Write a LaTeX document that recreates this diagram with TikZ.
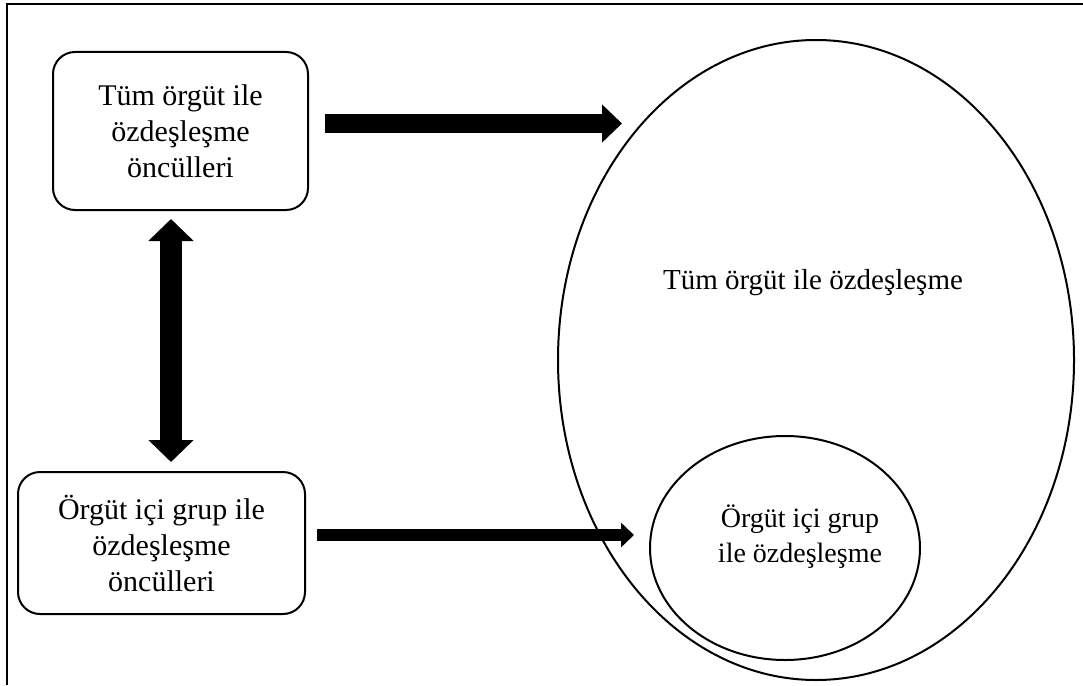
\documentclass[tikz,border=0pt]{standalone}
\usepackage{fontspec}
\setmainfont{Liberation Serif}
\usetikzlibrary{arrows.meta,shapes.geometric}

\begin{document}
\begin{tikzpicture}[x=1pt,y=-1pt]
\tikzstyle{every node}+=[inner sep=0pt, font=\fontsize{29}{36}\selectfont]
\tikzstyle{oncul}=[draw, line width=2pt, rounded corners=22pt, align=center, font=\fontsize{30}{36}\selectfont]
\tikzstyle{ozd}=[draw, ellipse, line width=2pt]
\tikzstyle{fatTop}=[line width=19pt, -{Triangle[length=20pt,width=37pt]}]
\tikzstyle{fatLow}=[line width=12pt, -{Triangle[length=13pt,width=24pt]}]
\tikzstyle{fatBoth}=[line width=22pt, {Triangle[length=22pt,width=44pt]}-{Triangle[length=22pt,width=44pt]}]
\useasboundingbox (0,0) rectangle (1083,685);
\draw [line width=2.5pt] (7,685) -- (7,4) -- (1083,4);
% sol taraf: oncul kutulari
\node [oncul, minimum width=255pt, minimum height=158pt] (tumOnc) at (180.5,131) {Tüm örgüt ile\\özdeşleşme\\öncülleri};
\node [oncul, minimum width=287pt, minimum height=142pt] (grpOnc) at (161.5,543) {Örgüt içi grup ile\\özdeşleşme\\öncülleri};
% sag taraf: ozdeslesme elipsleri
\node [ozd, minimum width=516pt, minimum height=640pt] (tumOzd) at (816,360) {};
\node [ozd, minimum width=270pt, minimum height=224pt] (grpOzd) at (785,548) {};
\node (tumTxt) at (813,283) {Tüm örgüt ile özdeşleşme};
\node [align=center, font=\fontsize{28}{35}\selectfont] (grpTxt) at (800,537) {Örgüt içi grup\\ile özdeşleşme};
% oklar
\coordinate (tumTip) at (622,123.5);
\coordinate (grpTip) at (634,535);
\draw [fatTop] ([xshift=16pt,yshift=7.5pt]tumOnc.east) -- (tumTip);
\draw [fatLow] ([xshift=11pt,yshift=8pt]grpOnc.east) -- (grpTip);
\draw [fatBoth] ([xshift=-9.5pt,yshift=-8pt]tumOnc.south) -- ([xshift=9.5pt,yshift=9pt]grpOnc.north);
\end{tikzpicture}
\end{document}
